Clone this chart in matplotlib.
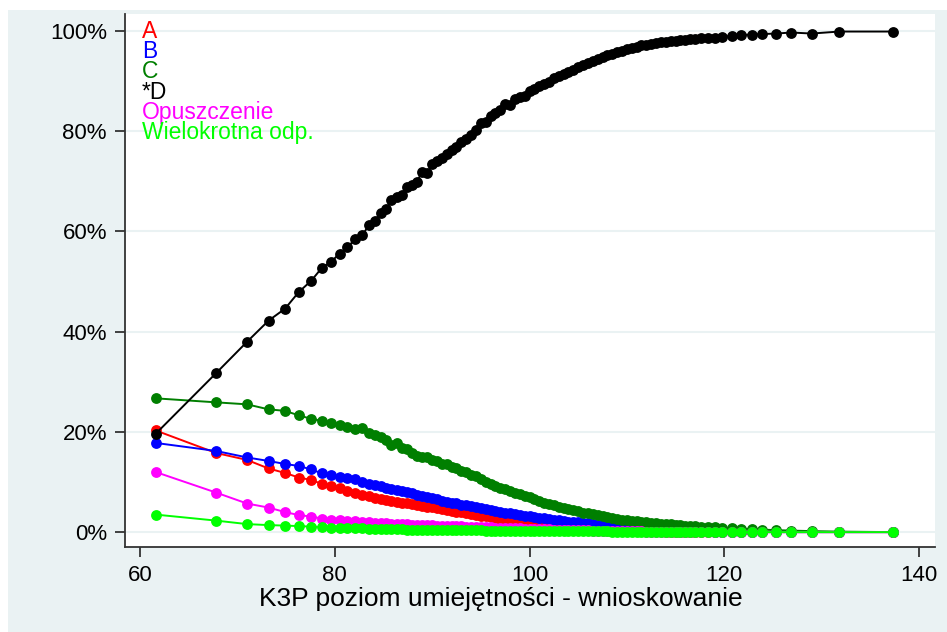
import matplotlib
matplotlib.use('Agg')
import matplotlib.pyplot as plt
from matplotlib.patches import Rectangle
from matplotlib.ticker import FuncFormatter

plt.rcParams['font.family'] = ['Liberation Sans', 'DejaVu Sans']

# skill level (x axis)
x = [61.6, 67.8, 71.0, 73.2, 74.9, 76.3, 77.6, 78.7, 79.6, 80.5,
     81.3, 82.1, 82.8, 83.5, 84.1, 84.7, 85.3, 85.8, 86.4, 86.9,
     87.4, 87.9, 88.4, 89.0, 89.5,
     90.0, 90.5, 91.0, 91.5, 92.0, 92.5, 93.0, 93.5, 94.0, 94.5,
     95.0, 95.5, 96.0, 96.5, 97.0, 97.5, 98.0, 98.5, 99.0, 99.5,
     100.0, 100.5, 101.0, 101.5, 102.0, 102.5, 103.0, 103.5, 104.0, 104.5,
     105.0, 105.5, 106.0, 106.5, 107.0, 107.5, 108.0, 108.5, 109.0, 109.5,
     110.0, 110.5, 111.0, 111.5, 112.0, 112.5, 113.0, 113.5, 114.0, 114.5,
     115.0, 115.5, 116.0, 116.5, 117.0,
     117.6, 118.3, 119.0, 119.8, 120.8, 121.7, 122.8, 123.9, 125.3, 126.9,
     129.0, 131.8, 137.3]

# share of answers (%)
ans_a = [20.3, 15.8, 14.4, 12.7, 11.8, 10.9, 10.4, 9.6, 9.2, 8.8,
         8.3, 7.9, 7.5, 7.2, 6.9, 6.7, 6.5, 6.3, 6.1, 5.9,
         5.8, 5.6, 5.5, 5.3, 5.1,
         5.0, 4.8, 4.6, 4.5, 4.3, 4.1, 4.0, 3.8, 3.6, 3.5,
         3.3, 3.2, 3.0, 2.9, 2.7, 2.6, 2.4, 2.3, 2.2, 2.0,
         1.9, 1.8, 1.7, 1.6, 1.5, 1.4, 1.3, 1.2, 1.1, 1.0,
         0.9, 0.9, 0.8, 0.7, 0.7, 0.6, 0.6, 0.5, 0.5, 0.4,
         0.4, 0.3, 0.3, 0.3, 0.2, 0.2, 0.2, 0.2, 0.1, 0.1,
         0.1, 0.1, 0.1, 0.1, 0.1,
         0.1, 0.0, 0.0, 0.0, 0.0, 0.0, 0.0, 0.0, 0.0, 0.0,
         0.0, 0.0, 0.0]

ans_b = [17.8, 16.2, 14.9, 14.2, 13.6, 13.2, 12.5, 11.7, 11.4, 11.0,
         10.9, 10.7, 10.0, 9.7, 9.4, 9.2, 8.9, 8.6, 8.5, 8.2,
         8.0, 7.8, 7.5, 7.2, 7.0,
         6.8, 6.6, 6.3, 6.1, 5.9, 5.8, 5.5, 5.4, 5.2, 5.0,
         4.9, 4.6, 4.5, 4.3, 4.1, 3.9, 3.8, 3.6, 3.4, 3.3,
         3.2, 3.0, 2.9, 2.8, 2.7, 2.5, 2.4, 2.3, 2.1, 2.0,
         2.0, 1.9, 1.8, 1.6, 1.5, 1.4, 1.4, 1.3, 1.2, 1.1,
         1.0, 1.0, 0.9, 0.8, 0.7, 0.7, 0.6, 0.5, 0.5, 0.4,
         0.4, 0.3, 0.3, 0.3, 0.2,
         0.2, 0.2, 0.1, 0.1, 0.1, 0.1, 0.0, 0.0, 0.0, 0.0,
         0.0, 0.0, 0.0]

ans_c = [26.7, 25.9, 25.5, 24.5, 24.2, 23.3, 22.6, 22.2, 21.8, 21.4,
         21.0, 20.5, 20.7, 19.7, 19.4, 18.9, 18.4, 17.4, 17.7, 16.7,
         16.6, 15.7, 15.2, 15.0, 14.9,
         14.3, 14.1, 13.6, 13.5, 13.0, 12.7, 12.2, 11.9, 11.4, 11.1,
         10.6, 10.1, 9.7, 9.3, 8.8, 8.6, 8.2, 7.8, 7.6, 7.2,
         7.0, 6.6, 6.3, 5.9, 5.6, 5.4, 5.1, 4.8, 4.6, 4.4,
         4.2, 3.9, 3.8, 3.6, 3.4, 3.2, 3.0, 2.9, 2.7, 2.5,
         2.4, 2.3, 2.2, 2.1, 2.0, 1.9, 1.8, 1.7, 1.6, 1.6,
         1.5, 1.4, 1.3, 1.3, 1.2,
         1.1, 1.0, 1.0, 0.9, 0.8, 0.7, 0.6, 0.5, 0.4, 0.3,
         0.2, 0.1, 0.0]

ans_d = [19.6, 31.7, 38.0, 42.2, 44.6, 47.9, 50.2, 52.8, 53.9, 55.6,
         56.9, 58.4, 59.2, 61.2, 62.0, 63.7, 64.4, 66.3, 66.8, 67.3,
         68.8, 69.2, 69.9, 71.9, 71.7,
         73.4, 74.0, 74.6, 75.4, 76.2, 76.8, 77.9, 78.4, 79.3, 80.2,
         81.6, 81.9, 83.1, 83.6, 84.2, 85.4, 85.3, 86.4, 86.9, 87.1,
         88.0, 88.4, 89.0, 89.4, 89.9, 90.6, 91.0, 91.4, 91.9, 92.3,
         92.8, 93.2, 93.6, 94.0, 94.5, 94.8, 95.2, 95.5, 95.8, 96.1,
         96.5, 96.7, 96.9, 97.2, 97.3, 97.5, 97.7, 97.8, 97.9, 98.0,
         98.1, 98.2, 98.3, 98.4, 98.5,
         98.6, 98.7, 98.7, 98.9, 99.0, 99.2, 99.3, 99.4, 99.5, 99.7,
         99.5, 99.9, 99.9]

omitted = [12.0, 7.9, 5.7, 4.9, 4.0, 3.4, 3.1, 2.7, 2.5, 2.4,
           2.3, 2.2, 2.1, 2.0, 1.9, 1.8, 1.8, 1.7, 1.7, 1.6,
           1.6, 1.5, 1.5, 1.4, 1.4,
           1.4, 1.3, 1.3, 1.3, 1.2, 1.2, 1.2, 1.1, 1.1, 1.1,
           1.0, 1.0, 1.0, 0.9, 0.9, 0.9, 0.8, 0.8, 0.8, 0.7,
           0.7, 0.7, 0.6, 0.6, 0.6, 0.5, 0.5, 0.5, 0.5, 0.4,
           0.4, 0.4, 0.4, 0.3, 0.3, 0.3, 0.3, 0.3, 0.2, 0.2,
           0.2, 0.2, 0.2, 0.2, 0.1, 0.1, 0.1, 0.1, 0.1, 0.1,
           0.1, 0.1, 0.1, 0.1, 0.1,
           0.1, 0.1, 0.0, 0.0, 0.0, 0.0, 0.0, 0.0, 0.0, 0.0,
           0.0, 0.0, 0.0]

multiple = [3.5, 2.3, 1.6, 1.4, 1.3, 1.2, 1.1, 1.0, 0.9, 0.9,
            0.8, 0.8, 0.8, 0.7, 0.7, 0.7, 0.6, 0.6, 0.6, 0.6,
            0.5, 0.5, 0.5, 0.5, 0.5,
            0.4, 0.4, 0.4, 0.4, 0.4, 0.4, 0.4, 0.4, 0.4, 0.4,
            0.4, 0.3, 0.3, 0.3, 0.3, 0.3, 0.3, 0.3, 0.3, 0.3,
            0.3, 0.3, 0.3, 0.3, 0.3, 0.2, 0.2, 0.2, 0.2, 0.2,
            0.2, 0.2, 0.2, 0.2, 0.2, 0.2, 0.2, 0.1, 0.1, 0.1,
            0.1, 0.1, 0.1, 0.1, 0.1, 0.1, 0.1, 0.1, 0.1, 0.1,
            0.1, 0.1, 0.1, 0.1, 0.1,
            0.1, 0.1, 0.1, 0.1, 0.1, 0.0, 0.0, 0.0, 0.0, 0.0,
            0.0, 0.0, 0.0]

labels = ['A', 'B', 'C', '*D', 'Opuszczenie', 'Wielokrotna odp.']
colors = ['#ff0000', '#0000ff', '#007f00', '#000000', '#ff00ff', '#00ff00']
series = [ans_a, ans_b, ans_c, ans_d, omitted, multiple]

bg = '#eaf2f3'
fig = plt.figure(figsize=(9.47, 6.32), dpi=100, facecolor='white')
fig.patches.append(Rectangle((8 / 947, 0), 1, 1 - 10 / 632, transform=fig.transFigure,
                             facecolor=bg, edgecolor='none', zorder=-1))
ax = fig.add_axes([125 / 947, 1 - 547 / 632, 810 / 947, 533 / 632])
ax.set_facecolor('white')

for vals, col in zip(series, colors):
    ax.plot(x, vals, color=col, lw=1.4, marker='o', markersize=7.8,
            markeredgewidth=0, zorder=3)

ax.set_xlim(58.46, 141.64)
ax.set_ylim(-2.97, 103.4)
ax.set_xticks([60, 80, 100, 120, 140])
ax.set_yticks([0, 20, 40, 60, 80, 100])
ax.yaxis.set_major_formatter(FuncFormatter(lambda v, p: f'{int(v)}%'))
ax.grid(axis='y', color=bg, lw=1.5, zorder=0)
ax.grid(axis='x', visible=False)

for side in ['top', 'right']:
    ax.spines[side].set_visible(False)
for side in ['left', 'bottom']:
    ax.spines[side].set_color('#333333')
    ax.spines[side].set_linewidth(1.3)
ax.tick_params(direction='out', length=7, width=1.3, color='#333333',
               labelsize=16, pad=6)

ax.set_xlabel('K3P poziom umiejętności - wnioskowanie', fontsize=19)
ax.xaxis.set_label_coords(0.464, -0.075)

# text-only legend in the top-left corner
for i, (lab, col) in enumerate(zip(labels, colors)):
    ax.text(0.021, 0.9544 - i * 0.0377, lab, color=col, fontsize=16.5,
            transform=ax.transAxes, va='baseline', ha='left', zorder=5)

fig.savefig('out.png', dpi=100)
